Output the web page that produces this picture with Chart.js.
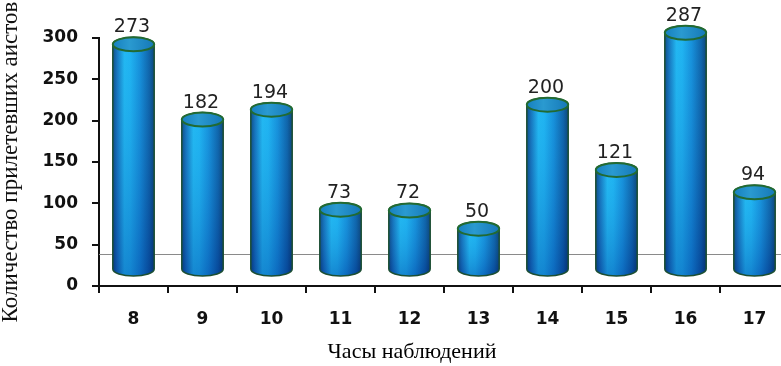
<!DOCTYPE html>
<html>
<head>
<meta charset="utf-8">
<script src="https://cdn.jsdelivr.net/npm/chart.js@4/dist/chart.umd.min.js"></script>
<style>
  html, body { margin: 0; padding: 0; background: #fff; overflow: hidden; }
  #wrap { width: 781px; height: 366px; overflow: hidden; }
  canvas { display: block; }
</style>
</head>
<body>
<div id="wrap"><canvas id="c" width="790" height="366"></canvas></div>
<script>
// ---- data ----
const hours = ['8', '9', '10', '11', '12', '13', '14', '15', '16', '17'];
const storks = [273, 182, 194, 73, 72, 50, 200, 121, 287, 94];
const yTicks = [0, 50, 100, 150, 200, 250, 300];
const floorLineValue = 39;
const yTitle = 'Количество прилетевших аистов';
const xTitle = 'Часы наблюдений';

// ---- 3D cylinder look ----
const DEPTH = 16;   // px shift of the cylinders (3D floor)
const RY = 7;       // ellipse half-height

function cylPath(ctx, cx, rx, yTop, yBot) {
  ctx.beginPath();
  ctx.moveTo(cx - rx, yTop);
  ctx.lineTo(cx - rx, yBot);
  ctx.ellipse(cx, yBot, rx, RY, 0, Math.PI, 0, true);
  ctx.lineTo(cx + rx, yTop);
  ctx.ellipse(cx, yTop, rx, RY, 0, 0, Math.PI, true);
  ctx.closePath();
}

const cylinderPlugin = {
  id: 'cylinders',
  beforeDatasetsDraw(chart) {
    const ctx = chart.ctx, a = chart.chartArea, y = chart.scales.y;
    const py = Math.round(y.getPixelForValue(floorLineValue)) + 0.5;
    ctx.save();
    ctx.strokeStyle = '#8a8a8a';
    ctx.lineWidth = 1;
    ctx.beginPath();
    ctx.moveTo(a.left, py);
    ctx.lineTo(a.right, py);
    ctx.stroke();
    ctx.restore();
  },
  afterDatasetsDraw(chart) {
    const ctx = chart.ctx;
    const meta = chart.getDatasetMeta(0);
    ctx.save();
    meta.data.forEach((bar, i) => {
      const cx = bar.x, rx = bar.width / 2;
      const yTop = bar.y - DEPTH, yBot = bar.base - DEPTH;
      const g = ctx.createLinearGradient(cx - rx, 0, cx + rx, 0);
      g.addColorStop(0, '#0a3d78');
      g.addColorStop(0.1, '#1268b4');
      g.addColorStop(0.28, '#1fb4f0');
      g.addColorStop(0.42, '#1cb0f0');
      g.addColorStop(0.65, '#1288d6');
      g.addColorStop(0.88, '#0a569f');
      g.addColorStop(1, '#073468');
      cylPath(ctx, cx, rx, yTop, yBot);
      ctx.fillStyle = g;
      ctx.fill();
      const gv = ctx.createLinearGradient(0, yTop, 0, yBot + RY);
      gv.addColorStop(0, 'rgba(60,210,255,0.12)');
      gv.addColorStop(1, 'rgba(0,40,140,0.32)');
      ctx.fillStyle = gv;
      ctx.fill();
      ctx.strokeStyle = '#1c4f33';
      ctx.lineWidth = 1.5;
      ctx.stroke();
      // top cap
      ctx.beginPath();
      ctx.ellipse(cx, yTop, rx, RY, 0, 0, Math.PI * 2);
      const gt = ctx.createLinearGradient(cx - rx, 0, cx + rx, 0);
      gt.addColorStop(0, '#1780bf');
      gt.addColorStop(0.4, '#2a9ad0');
      gt.addColorStop(1, '#1678b8');
      ctx.fillStyle = gt;
      ctx.fill();
      ctx.strokeStyle = '#226a32';
      ctx.lineWidth = 2;
      ctx.stroke();
      // value label
      ctx.fillStyle = '#222';
      ctx.font = '19px "DejaVu Sans"';
      ctx.textAlign = 'center';
      ctx.textBaseline = 'alphabetic';
      ctx.fillText(String(storks[i]), cx - 1.5, yTop - RY - 5);
    });
    // x axis title
    ctx.fillStyle = '#000';
    ctx.font = '22px "Liberation Serif"';
    ctx.textAlign = 'center';
    ctx.textBaseline = 'alphabetic';
    ctx.fillText(xTitle, 412, 358);
    ctx.restore();
  }
};

new Chart(document.getElementById('c'), {
  type: 'bar',
  data: {
    labels: hours,
    datasets: [{
      data: storks,
      backgroundColor: 'rgba(0,0,0,0)',
      borderWidth: 0,
      barPercentage: 0.6,
      categoryPercentage: 1.0
    }]
  },
  options: {
    responsive: false,
    animation: false,
    layout: { padding: { top: 38, right: 1, bottom: 0, left: 0 } },
    plugins: { legend: { display: false }, tooltip: { enabled: false } },
    scales: {
      x: {
        afterFit(s) { s.height = 80; },
        grid: { offset: true, drawOnChartArea: false, drawTicks: true, tickLength: 7, color: '#111', lineWidth: 2 },
        border: { display: true, color: '#111', width: 2 },
        ticks: { color: '#111', font: { family: 'DejaVu Sans', weight: 'bold', size: 17 }, padding: 16, maxRotation: 0 }
      },
      y: {
        min: 0, max: 300,
        afterFit(s) { s.width = 99; },
        afterBuildTicks(s) { s.ticks = yTicks.map(v => ({ value: v })); },
        grid: { drawOnChartArea: false, drawTicks: true, tickLength: 7, color: '#111', lineWidth: 2 },
        border: { display: true, color: '#111', width: 2 },
        ticks: { color: '#111', font: { family: 'DejaVu Sans', weight: 'bold', size: 17 }, padding: 14 },
        title: {
          display: true, text: yTitle, color: '#111',
          font: { family: 'Liberation Serif', size: 23 },
          padding: { top: -3, bottom: 0 }
        }
      }
    }
  },
  plugins: [cylinderPlugin]
});
</script>
</body>
</html>
